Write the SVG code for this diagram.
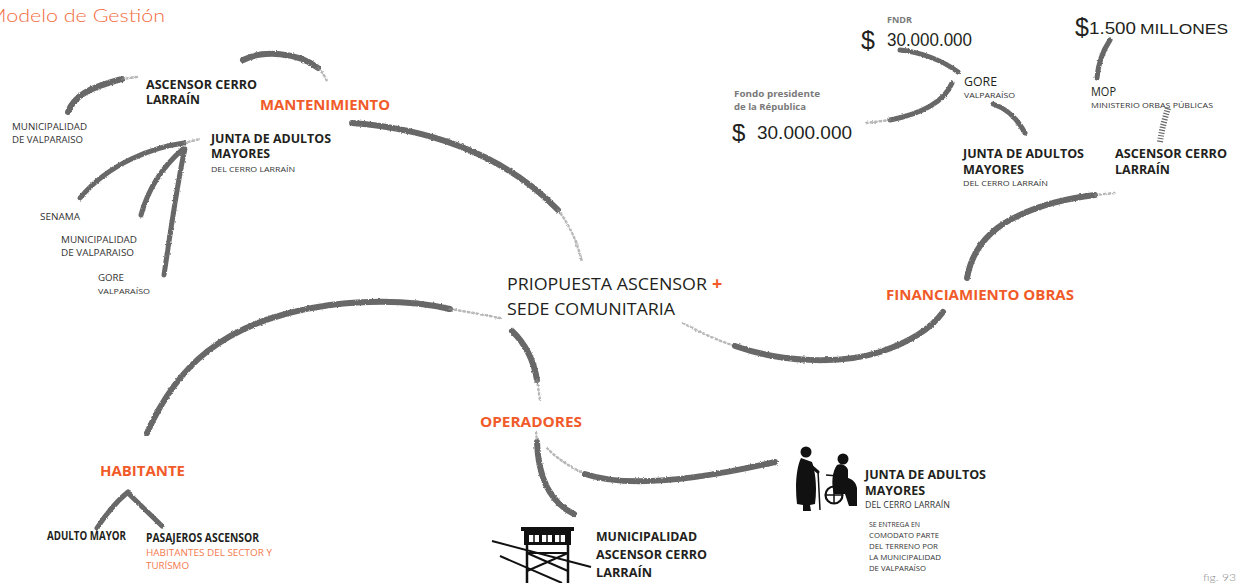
<svg xmlns="http://www.w3.org/2000/svg" width="1236" height="583" viewBox="0 0 1236 583">
  <defs>
    <!-- rough brush edge -->
    <filter id="rough" filterUnits="userSpaceOnUse" x="0" y="0" width="1236" height="583">
      <feTurbulence type="fractalNoise" baseFrequency="0.6" numOctaves="2" seed="4" result="noise"/>
      <feDisplacementMap in="SourceGraphic" in2="noise" scale="2.5" xChannelSelector="R" yChannelSelector="G"/>
    </filter>
    <style>
      .brush { fill: none; stroke: #686868; stroke-width: 6; stroke-linecap: round; stroke-linejoin: round; filter: url(#rough); }
      .thin { stroke-width: 5; }
      .tail { fill: none; stroke: #8a8a8a; stroke-width: 2.5; stroke-dasharray: 1.5 3; stroke-linecap: round; opacity: 0.6; filter: url(#rough); }
      .hatch { fill: none; stroke: #686868; stroke-width: 6; stroke-dasharray: 1.2 1.6; }
      text { font-family: "Open Sans", "Liberation Sans", sans-serif; fill: #231f20; }
      .b { font-weight: 700; font-size: 12px; }
      .or { fill: #f15a29; font-weight: 700; font-size: 14px; }
      .sm { font-size: 8.5px; fill: #333; }
      .xs { font-size: 7px; fill: #333; }
      .money { font-family: "Liberation Sans", Arial, sans-serif; fill: #231f20; }
      .grey { fill: #7a7a7a; font-weight: 700; }
      .orl { fill: #f47a50; font-size: 9px; }
      .title { font-family: Lato, "Open Sans", sans-serif; font-weight: 300; font-size: 17px; fill: #f26b3d; }
      .fig { font-family: Lato, "Open Sans", sans-serif; font-weight: 300; font-size: 10px; fill: #8a8a8a; }
      .ico { fill: #111; }
      .icol { stroke: #111; fill: none; }
    </style>
  </defs>

  <rect width="1236" height="583" fill="#ffffff"/>

  <!-- title -->
  <text class="title" x="-13" y="22" textLength="178" lengthAdjust="spacingAndGlyphs">Modelo de Gestión</text>

  <!-- brush connectors -->
  <g id="connectors">
    <!-- maintenance cluster -->
    <path class="brush" d="M243,60 C262,50 298,52 318,68"/>
    <path class="tail" d="M318,68 Q324,74 327,81"/>
    <path class="brush" d="M68,112 C74,96 88,88 122,79"/>
    <path class="tail" d="M122,79 L137,77"/>
    <path class="brush" d="M352,123 C420,128 500,150 558,210"/>
    <path class="tail" d="M558,210 Q575,232 582,262"/>
    <path class="brush thin" d="M184,143 C155,147 110,162 80,198"/>
    <path class="tail" d="M184,143 L200,139"/>
    <path class="brush thin" d="M183,149 C168,162 150,182 141,215"/>
    <path class="brush thin" d="M185,149 C179,172 172,222 164,275"/>

    <!-- habitante arc -->
    <path class="brush" d="M147,433 C175,370 220,320 330,305 C380,299 420,302 450,309"/>
    <path class="tail" d="M450,309 Q480,314 500,318"/>
    <path class="brush thin" d="M97,528 Q112,505 128,492"/>
    <path class="brush thin" d="M128,493 L162,526"/>

    <!-- operadores -->
    <path class="brush" d="M512,331 Q532,350 537,380"/>
    <path class="tail" d="M537,380 L540,400"/>
    <path class="tail" d="M536,432 L537,442"/>
    <path class="brush" d="M537,442 C538,470 545,500 574,514"/>
    <path class="tail" d="M547,448 Q560,462 585,474"/>
    <path class="brush" d="M585,474 C620,486 680,484 775,462"/>

    <!-- financiamiento -->
    <path class="tail" d="M683,323 Q710,338 735,346"/>
    <path class="brush" d="M735,346 C780,362 840,365 880,352 C910,342 930,330 943,312"/>
    <path class="brush" d="M967,278 C972,250 990,228 1020,215 C1045,203 1070,198 1095,195"/>
    <path class="tail" d="M1095,195 L1115,193"/>

    <!-- funding sources -->
    <path class="brush thin" d="M900,50 C920,52 942,60 958,72"/>
    <path class="brush thin" d="M952,83 C945,100 925,113 890,120"/>
    <path class="tail" d="M890,120 L866,123"/>
    <path class="brush thin" d="M993,104 C1005,108 1017,118 1025,133"/>
    <path class="brush thin" d="M1097,78 C1098,65 1102,52 1110,40"/>
    <path class="hatch" d="M1160,142 C1162,128 1165,118 1168,108"/>
  </g>

  <!-- central node -->
  <g id="propuesta">
    <text x="507" y="290" font-size="17" textLength="200" lengthAdjust="spacingAndGlyphs">PRIOPUESTA ASCENSOR</text>
    <text x="712" y="290" font-size="18" font-weight="700" style="fill:#f15a29">+</text>
    <text x="507" y="315" font-size="17" textLength="168" lengthAdjust="spacingAndGlyphs">SEDE COMUNITARIA</text>
  </g>

  <!-- mantenimiento -->
  <g id="mantenimiento">
    <text class="or" x="260" y="110" textLength="130" lengthAdjust="spacingAndGlyphs">MANTENIMIENTO</text>
  </g>
  <g id="ascensor-mant">
    <text class="b" x="146" y="89" textLength="111" lengthAdjust="spacingAndGlyphs">ASCENSOR CERRO</text>
    <text class="b" x="146" y="104" textLength="54" lengthAdjust="spacingAndGlyphs">LARRAÍN</text>
  </g>
  <g id="municipalidad-mant">
    <text class="sm" x="12" y="130" textLength="75" lengthAdjust="spacingAndGlyphs">MUNICIPALIDAD</text>
    <text class="sm" x="12" y="143" textLength="71" lengthAdjust="spacingAndGlyphs">DE VALPARAISO</text>
  </g>
  <g id="junta-mant">
    <text class="b" x="211" y="143" textLength="120" lengthAdjust="spacingAndGlyphs">JUNTA DE ADULTOS</text>
    <text class="b" x="211" y="158" textLength="59" lengthAdjust="spacingAndGlyphs">MAYORES</text>
    <text class="xs" x="211" y="172" font-size="8" textLength="84" lengthAdjust="spacingAndGlyphs">DEL CERRO LARRAÍN</text>
  </g>
  <g id="senama">
    <text class="sm" x="40" y="220" textLength="40" lengthAdjust="spacingAndGlyphs">SENAMA</text>
  </g>
  <g id="municipalidad-2">
    <text class="sm" x="61" y="243" textLength="76" lengthAdjust="spacingAndGlyphs">MUNICIPALIDAD</text>
    <text class="sm" x="61" y="256" textLength="73" lengthAdjust="spacingAndGlyphs">DE VALPARAISO</text>
  </g>
  <g id="gore-mant">
    <text class="sm" x="98" y="281" textLength="26" lengthAdjust="spacingAndGlyphs">GORE</text>
    <text class="xs" x="98" y="294" font-size="7.5" textLength="52" lengthAdjust="spacingAndGlyphs">VALPARAÍSO</text>
  </g>

  <!-- habitante -->
  <g id="habitante">
    <text class="or" x="100" y="476" textLength="85" lengthAdjust="spacingAndGlyphs">HABITANTE</text>
  </g>
  <g id="adulto-mayor">
    <text class="b" x="47" y="540" font-size="9.5" textLength="79" lengthAdjust="spacingAndGlyphs">ADULTO MAYOR</text>
  </g>
  <g id="pasajeros">
    <text class="b" x="146" y="542" font-size="9.5" textLength="113" lengthAdjust="spacingAndGlyphs">PASAJEROS ASCENSOR</text>
    <text class="orl" x="146" y="556" textLength="126" lengthAdjust="spacingAndGlyphs">HABITANTES DEL SECTOR Y</text>
    <text class="orl" x="146" y="569" textLength="43" lengthAdjust="spacingAndGlyphs">TURÍSMO</text>
  </g>

  <!-- operadores -->
  <g id="operadores">
    <text class="or" x="480" y="427" textLength="102" lengthAdjust="spacingAndGlyphs">OPERADORES</text>
  </g>
  <g id="municipalidad-op">
    <!-- funicular station icon -->
    <path class="icol" stroke-width="2" d="M492,541 L591,567"/>
    <path class="icol" stroke-width="2" d="M500,556 L562,583"/>
    <rect class="ico" x="521" y="527" width="53" height="4"/>
    <rect class="ico" x="524" y="531" width="47" height="14"/>
    <rect x="529" y="535" width="10" height="7" fill="#fff"/>
    <rect x="542" y="535" width="10" height="7" fill="#fff"/>
    <rect x="555" y="535" width="10" height="7" fill="#fff"/>
    <path class="icol" stroke-width="1.5" d="M534,535 V542 M547,535 V542 M560,535 V542"/>
    <path class="icol" stroke-width="2.5" d="M527,545 V583 M568,545 V583"/>
    <path class="icol" stroke-width="2" d="M527,553 H568 M527,553 L568,571 M568,553 L527,571"/>
    <text class="b" x="596" y="541" textLength="101" lengthAdjust="spacingAndGlyphs">MUNICIPALIDAD</text>
    <text class="b" x="596" y="559" textLength="111" lengthAdjust="spacingAndGlyphs">ASCENSOR CERRO</text>
    <text class="b" x="596" y="577" textLength="56" lengthAdjust="spacingAndGlyphs">LARRAÍN</text>
  </g>

  <!-- junta de adultos (operators) -->
  <g id="junta-op">
    <!-- standing elder with cane -->
    <circle class="ico" cx="806" cy="452" r="5.5"/>
    <path class="ico" d="M801,458 C796,468 795,488 797,504 L803,505 L803,511 L811,511 L810,505 L815,504 C817,490 816,473 812,462 Z"/>
    <path class="icol" stroke-width="3" stroke-linecap="round" d="M811,466 L818,472"/>
    <path class="icol" stroke-width="1.5" d="M818,471 L820,510"/>
    <!-- elder in wheelchair -->
    <circle class="ico" cx="843" cy="459" r="5.5"/>
    <path class="ico" d="M837,465 C832,472 831,484 834,494 L845,494 L849,506 L857,506 L857,488 C856,482 852,479 848,478 L848,470 C847,466 842,463 837,465 Z"/>
    <circle class="icol" stroke-width="2.2" cx="834" cy="495" r="8.5"/>
    <path class="icol" stroke-width="1.5" d="M826,475 L838,476 M834,487 L834,503 M826,495 L842,495"/>
    <text class="b" x="865" y="479" textLength="121" lengthAdjust="spacingAndGlyphs">JUNTA DE ADULTOS</text>
    <text class="b" x="865" y="495" textLength="60" lengthAdjust="spacingAndGlyphs">MAYORES</text>
    <text class="sm" x="865" y="508" textLength="85" lengthAdjust="spacingAndGlyphs">DEL CERRO LARRAÍN</text>
    <text class="xs" x="869" y="527" textLength="51" lengthAdjust="spacingAndGlyphs">SE ENTREGA EN</text>
    <text class="xs" x="869" y="538" textLength="70" lengthAdjust="spacingAndGlyphs">COMODATO PARTE</text>
    <text class="xs" x="869" y="549" textLength="69" lengthAdjust="spacingAndGlyphs">DEL TERRENO POR</text>
    <text class="xs" x="869" y="560" textLength="72" lengthAdjust="spacingAndGlyphs">LA MUNICIPALIDAD</text>
    <text class="xs" x="869" y="571" textLength="57" lengthAdjust="spacingAndGlyphs">DE VALPARAÍSO</text>
  </g>

  <!-- financiamiento obras -->
  <g id="financiamiento">
    <text class="or" x="886" y="300" textLength="188" lengthAdjust="spacingAndGlyphs">FINANCIAMIENTO OBRAS</text>
  </g>
  <g id="junta-fin">
    <text class="b" x="963" y="158" textLength="121" lengthAdjust="spacingAndGlyphs">JUNTA DE ADULTOS</text>
    <text class="b" x="963" y="174" textLength="61" lengthAdjust="spacingAndGlyphs">MAYORES</text>
    <text class="xs" x="963" y="186" font-size="8" textLength="85" lengthAdjust="spacingAndGlyphs">DEL CERRO LARRAÍN</text>
  </g>
  <g id="ascensor-fin">
    <text class="b" x="1115" y="158" textLength="112" lengthAdjust="spacingAndGlyphs">ASCENSOR CERRO</text>
    <text class="b" x="1115" y="174" textLength="55" lengthAdjust="spacingAndGlyphs">LARRAÍN</text>
  </g>
  <g id="gore-fin">
    <text x="964" y="86" font-size="12" textLength="33" lengthAdjust="spacingAndGlyphs">GORE</text>
    <text class="xs" x="964" y="98" font-size="7.5" textLength="51" lengthAdjust="spacingAndGlyphs">VALPARAÍSO</text>
  </g>
  <g id="mop">
    <text x="1091" y="96" font-size="12" textLength="25" lengthAdjust="spacingAndGlyphs">MOP</text>
    <text class="xs" x="1091" y="108" font-size="7.5" textLength="122" lengthAdjust="spacingAndGlyphs">MINISTERIO ORBAS PÚBLICAS</text>
  </g>
  <g id="fndr">
    <text class="grey" x="887" y="23" font-size="8.5" textLength="25" lengthAdjust="spacingAndGlyphs">FNDR</text>
    <text class="money" x="861" y="49" font-size="25">$</text>
    <text class="money" x="887" y="46" font-size="17.5" textLength="85" lengthAdjust="spacingAndGlyphs">30.000.000</text>
  </g>
  <g id="fondo-presidente">
    <text class="grey" x="734" y="97" font-size="9" textLength="86" lengthAdjust="spacingAndGlyphs">Fondo presidente</text>
    <text class="grey" x="734" y="110" font-size="9" textLength="72" lengthAdjust="spacingAndGlyphs">de la Républica</text>
    <text class="money" x="732" y="141" font-size="24">$</text>
    <text class="money" x="757" y="139" font-size="18.5" textLength="95" lengthAdjust="spacingAndGlyphs">30.000.000</text>
  </g>
  <g id="mop-fondos">
    <text class="money" x="1075" y="36" font-size="25">$</text>
    <text class="money" x="1089" y="34" font-size="17" textLength="47" lengthAdjust="spacingAndGlyphs">1.500</text>
    <text class="money" x="1140" y="34" font-size="14.5" textLength="88" lengthAdjust="spacingAndGlyphs">MILLONES</text>
  </g>

  <!-- figure number -->
  <text class="fig" x="1203" y="581" textLength="33" lengthAdjust="spacingAndGlyphs">fig. 93</text>
</svg>
